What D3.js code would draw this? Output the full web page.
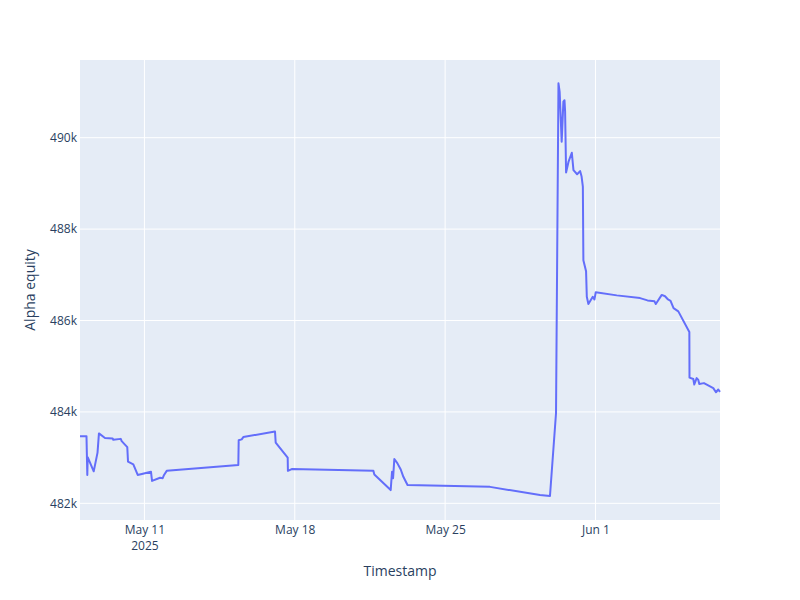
<!DOCTYPE html>
<html>
<head>
<meta charset="utf-8">
<script src="https://cdn.jsdelivr.net/npm/d3@7.9.0/dist/d3.min.js"></script>
<style>
  body { margin: 0; background: #fff; }
  svg text { font-family: "Open Sans", verdana, arial, sans-serif; }
</style>
</head>
<body>
<svg id="chart"></svg>
<script>
// timestamps of the equity samples
const timestamps = [
  "2025-05-08T00:00", "2025-05-08T07:15", "2025-05-08T08:10", "2025-05-08T08:35",
  "2025-05-08T15:20", "2025-05-08T19:35", "2025-05-08T21:10", "2025-05-09T03:55",
  "2025-05-09T12:30", "2025-05-09T13:10", "2025-05-09T21:30", "2025-05-09T22:35",
  "2025-05-10T04:50", "2025-05-10T05:40", "2025-05-10T11:35", "2025-05-10T16:30",
  "2025-05-11T07:20", "2025-05-11T08:30", "2025-05-11T17:25", "2025-05-11T20:25",
  "2025-05-11T21:55", "2025-05-12T00:55", "2025-05-15T08:55", "2025-05-15T09:20",
  "2025-05-15T12:40", "2025-05-15T14:30", "2025-05-17T01:55", "2025-05-17T02:40",
  "2025-05-17T16:05", "2025-05-17T16:20", "2025-05-17T20:35", "2025-05-21T15:50",
  "2025-05-21T16:55", "2025-05-22T11:10", "2025-05-22T12:40", "2025-05-22T13:50",
  "2025-05-22T15:15", "2025-05-22T18:35", "2025-05-22T22:25", "2025-05-23T01:20",
  "2025-05-23T06:00", "2025-05-27T02:10", "2025-05-29T10:00", "2025-05-29T21:10",
  "2025-05-30T03:55", "2025-05-30T06:40", "2025-05-30T08:00", "2025-05-30T10:15",
  "2025-05-30T12:10", "2025-05-30T13:25", "2025-05-30T14:05", "2025-05-30T15:10",
  "2025-05-30T17:50", "2025-05-30T21:35", "2025-05-30T23:25", "2025-05-31T03:30",
  "2025-05-31T06:50", "2025-05-31T08:30", "2025-05-31T09:55", "2025-05-31T10:30",
  "2025-05-31T13:30", "2025-05-31T14:20", "2025-05-31T16:05", "2025-05-31T21:00",
  "2025-05-31T22:50", "2025-06-01T00:20", "2025-06-01T23:50", "2025-06-03T01:50",
  "2025-06-03T10:10", "2025-06-03T18:00", "2025-06-03T19:25", "2025-06-04T02:05",
  "2025-06-04T05:45", "2025-06-04T09:05", "2025-06-04T11:55", "2025-06-04T15:15",
  "2025-06-04T20:35", "2025-06-05T08:55", "2025-06-05T09:05", "2025-06-05T13:20",
  "2025-06-05T14:25", "2025-06-05T17:05", "2025-06-05T18:55", "2025-06-05T20:00",
  "2025-06-06T01:15", "2025-06-06T11:40", "2025-06-06T14:40", "2025-06-06T17:15",
  "2025-06-06T19:10"
];

const equity = [
  483470, 483470, 482620, 483010,
  482700, 483110, 483530, 483430,
  483420, 483390, 483410, 483360,
  483230, 482910, 482850, 482620,
  482690, 482490, 482560, 482550,
  482620, 482710, 482840, 483380,
  483400, 483450, 483570, 483330,
  483000, 482710, 482750, 482710,
  482630, 482290, 482690, 482550,
  482970, 482880, 482740, 482580,
  482400, 482360, 482180, 482160,
  483970, 491190, 491000, 489910,
  490790, 490820, 490570, 489240,
  489470, 489670, 489290, 489200,
  489270, 489150, 488930, 487320,
  487080, 486520, 486360, 486520,
  486460, 486620, 486550, 486490,
  486440, 486420, 486360, 486560,
  486530, 486460, 486430, 486270,
  486200, 485750, 484750, 484720,
  484600, 484740, 484700, 484610,
  484630, 484520, 484430, 484490,
  484440
];

const xTicks = ["2025-05-11", "2025-05-18", "2025-05-25", "2025-06-01"];
const xTickLabels = [["May 11", "2025"], ["May 18"], ["May 25"], ["Jun 1"]];
const yTicks = [482000, 484000, 486000, 488000, 490000];
const yDomain = [481635, 491700];

const svgWidth = 800;
const svgHeight = 600;
const margin = { top: 60, right: 80, bottom: 80, left: 80 };
const width = svgWidth - margin.left - margin.right;
const height = svgHeight - margin.top - margin.bottom;

const parseTime = d3.timeParse("%Y-%m-%dT%H:%M");
const parseDay = d3.timeParse("%Y-%m-%d");
const data = timestamps.map((t, i) => ({ t: parseTime(t), v: equity[i] }));

const svg = d3.select("#chart")
    .attr("width", svgWidth)
    .attr("height", svgHeight);

const g = svg.append("g")
    .attr("transform", `translate(${margin.left}, ${margin.top})`);

const xScale = d3.scaleTime()
    .domain(d3.extent(data, d => d.t))
    .range([0, width]);

const yScale = d3.scaleLinear()
    .domain(yDomain)
    .range([height, 0]);

// plot background
g.append("rect")
    .attr("width", width)
    .attr("height", height)
    .attr("fill", "#E5ECF6");

// gridlines
g.selectAll(".xgrid")
    .data(xTicks.map(parseDay))
    .enter()
    .append("line")
    .attr("x1", d => xScale(d))
    .attr("x2", d => xScale(d))
    .attr("y1", 0)
    .attr("y2", height)
    .attr("stroke", "#fff")
    .attr("stroke-width", 1);

g.selectAll(".ygrid")
    .data(yTicks)
    .enter()
    .append("line")
    .attr("x1", 0)
    .attr("x2", width)
    .attr("y1", d => yScale(d))
    .attr("y2", d => yScale(d))
    .attr("stroke", "#fff")
    .attr("stroke-width", 1);

// axes (labels only, plotly style)
const xAxis = g.append("g")
    .attr("transform", `translate(0, ${height})`)
    .call(d3.axisBottom(xScale)
        .tickValues(xTicks.map(parseDay))
        .tickSize(0));
xAxis.select(".domain").remove();
xAxis.selectAll(".tick text").remove();
xAxis.selectAll(".tick").each(function(d, i) {
    const tick = d3.select(this);
    xTickLabels[i].forEach((line, j) => {
        tick.append("text")
            .attr("fill", "#2a3f5f")
            .attr("text-anchor", "middle")
            .attr("y", 13.5 + j * 16.5)
            .style("font-size", "12px")
            .text(line);
    });
});

const yAxis = g.append("g")
    .call(d3.axisLeft(yScale)
        .tickValues(yTicks)
        .tickSize(0)
        .tickPadding(3)
        .tickFormat(d => (d / 1000) + "k"));
yAxis.select(".domain").remove();
yAxis.selectAll("text")
    .attr("fill", "#2a3f5f")
    .style("font-size", "12px");

// axis titles
g.append("text")
    .attr("x", width / 2)
    .attr("y", height + 56)
    .attr("text-anchor", "middle")
    .attr("fill", "#2a3f5f")
    .style("font-size", "14px")
    .text("Timestamp");

g.append("text")
    .attr("transform", "rotate(-90)")
    .attr("x", -height / 2)
    .attr("y", -45)
    .attr("text-anchor", "middle")
    .attr("fill", "#2a3f5f")
    .style("font-size", "14px")
    .text("Alpha equity");

// equity line
const line = d3.line()
    .x(d => xScale(d.t))
    .y(d => yScale(d.v));

g.append("path")
    .datum(data)
    .attr("fill", "none")
    .attr("stroke", "#636efa")
    .attr("stroke-width", 2)
    .attr("stroke-linejoin", "round")
    .attr("d", line);
</script>
</body>
</html>
